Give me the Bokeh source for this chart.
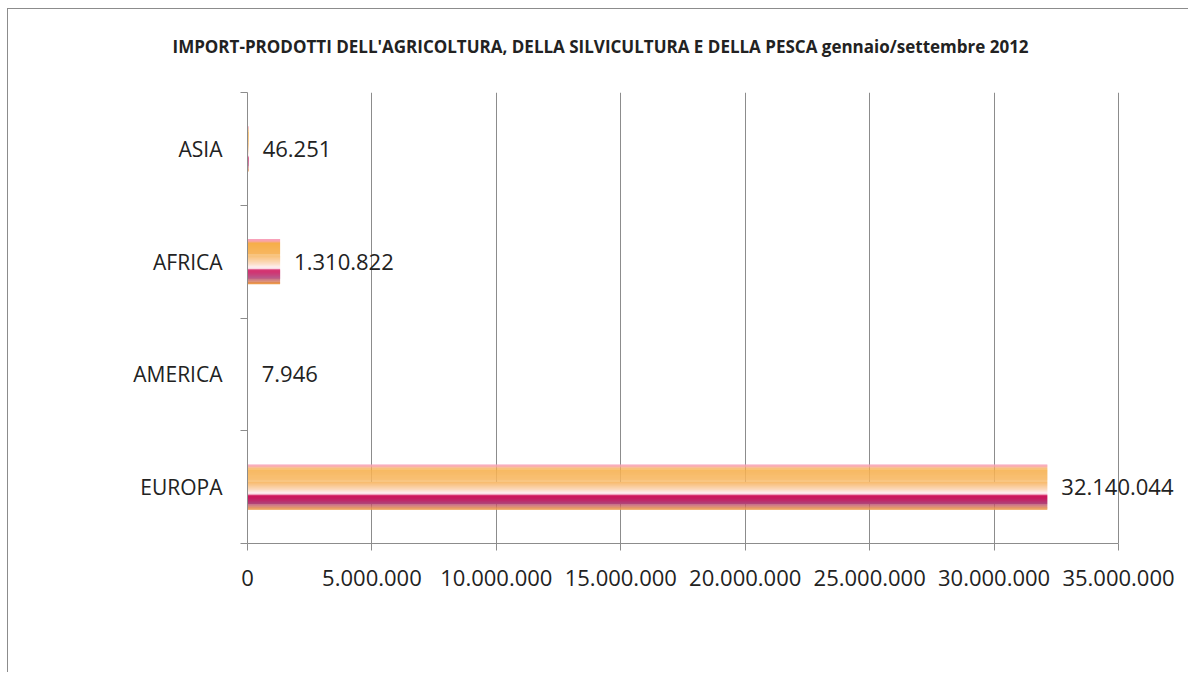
from bokeh.plotting import figure
from bokeh.models import FixedTicker, ColumnDataSource
from bokeh.embed import file_html
from bokeh.resources import INLINE
from bokeh.core.properties import value

# ---- data ----
categories = ["EUROPA", "AMERICA", "AFRICA", "ASIA"]
values = [32140044, 7946, 1310822, 46251]
value_labels = ["32.140.044", "7.946", "1.310.822", "46.251"]
x_ticks = [0, 5000000, 10000000, 15000000, 20000000, 25000000, 30000000, 35000000]
x_tick_labels = ["0", "5.000.000", "10.000.000", "15.000.000", "20.000.000",
                 "25.000.000", "30.000.000", "35.000.000"]
title = "IMPORT-PRODOTTI DELL'AGRICOLTURA, DELLA SILVICULTURA E DELLA PESCA gennaio/settembre 2012"

# ---- style ----
GRAY = "#8c8c8c"
TXT = "#222222"
FONT = "Open Sans"
BAR_H = 0.4
AXIS_MAX = x_ticks[-1]
# frame runs past the axis end so the last value label is not clipped
X_END = AXIS_MAX * 941 / 871
stops = [(0.00, "#F8A0C0"), (0.05, "#F8A5A0"), (0.09, "#F6AE48"), (0.38, "#F7B866"),
         (0.55, "#FBD8BC"), (0.63, "#FFEFF2"), (0.67, "#F5B8CC"), (0.69, "#D0145A"),
         (0.75, "#C81A60"), (0.86, "#B04078"), (1.00, "#F0A048")]


def hex2rgb(h):
    return tuple(int(h[i:i + 2], 16) for i in (1, 3, 5))


def color_at(t):
    for (t0, c0), (t1, c1) in zip(stops[:-1], stops[1:]):
        if t0 <= t <= t1:
            f = 0 if t1 == t0 else (t - t0) / (t1 - t0)
            a, b = hex2rgb(c0), hex2rgb(c1)
            return "#%02x%02x%02x" % tuple(int(round(a[i] + (b[i] - a[i]) * f)) for i in range(3))
    return stops[-1][1]


p = figure(width=1188, height=672, output_backend="svg", toolbar_location=None,
           x_range=(0, X_END), y_range=(-0.5, 3.5))
p.min_border_left = 247
p.min_border_right = 0
p.min_border_top = 92
p.min_border_bottom = 129
p.outline_line_color = None
p.background_fill_color = "white"
p.border_fill_color = None
p.styles = {
    "background": ("linear-gradient(#8c8c8c,#8c8c8c) 7px 8px / 1px 100% no-repeat, "
                   "linear-gradient(#8c8c8c,#8c8c8c) 7px 8px / 100% 1px no-repeat, white"),
}

p.title.text = title
p.title.align = "left"
p.title.offset = -75
p.title.vertical_align = "top"
p.title.standoff = 66
p.title.text_font = FONT
p.title.text_font_size = "17px"
p.title.text_font_style = "bold"
p.title.text_color = TXT

# gradient bars as thin strips
N = 46
sy, sl, sr, sc = [], [], [], []
for i, v in enumerate(values):
    for k in range(N):
        t = (k + 0.5) / N
        sy.append(i + BAR_H / 2 - t * BAR_H)
        sl.append(0)
        sr.append(v)
        sc.append(color_at(t))
src = ColumnDataSource(dict(y=sy, left=sl, right=sr, color=sc))
p.hbar(y="y", left="left", right="right", height=BAR_H / N * 1.2, fill_color="color",
       line_color=None, source=src)

lab = ColumnDataSource(dict(x=values, y=list(range(len(values))), text=value_labels))
p.text(x="x", y="y", text="text", source=lab, x_offset=14, text_align="left",
       text_baseline="middle", text_font=value(FONT), text_font_size="22px", text_color=TXT)

# axes
p.xaxis.ticker = FixedTicker(ticks=x_ticks)
p.xaxis.bounds = (0, AXIS_MAX)
p.xaxis.major_label_overrides = {t: l for t, l in zip(x_ticks, x_tick_labels)}
p.xaxis.minor_tick_line_color = None
p.xaxis.major_tick_in = 0
p.xaxis.major_tick_out = 7
p.xaxis.axis_line_color = GRAY
p.xaxis.major_tick_line_color = GRAY
p.xaxis.major_label_text_font = FONT
p.xaxis.major_label_text_font_size = "22px"
p.xaxis.major_label_text_color = TXT
p.xaxis.major_label_standoff = 19

p.yaxis.ticker = FixedTicker(ticks=list(range(len(categories))),
                             minor_ticks=[-0.5, 0.5, 1.5, 2.5, 3.5])
p.yaxis.major_label_overrides = {i: c for i, c in enumerate(categories)}
p.yaxis.major_tick_in = 0
p.yaxis.major_tick_out = 0
p.yaxis.minor_tick_in = 0
p.yaxis.minor_tick_out = 7
p.yaxis.minor_tick_line_color = GRAY
p.yaxis.axis_line_color = GRAY
p.yaxis.major_label_text_font = FONT
p.yaxis.major_label_text_font_size = "21px"
p.yaxis.major_label_text_color = TXT
p.yaxis.major_label_standoff = 18

p.xgrid.grid_line_color = GRAY
p.ygrid.grid_line_color = None

open("out.html", "w").write(file_html(p, INLINE))
